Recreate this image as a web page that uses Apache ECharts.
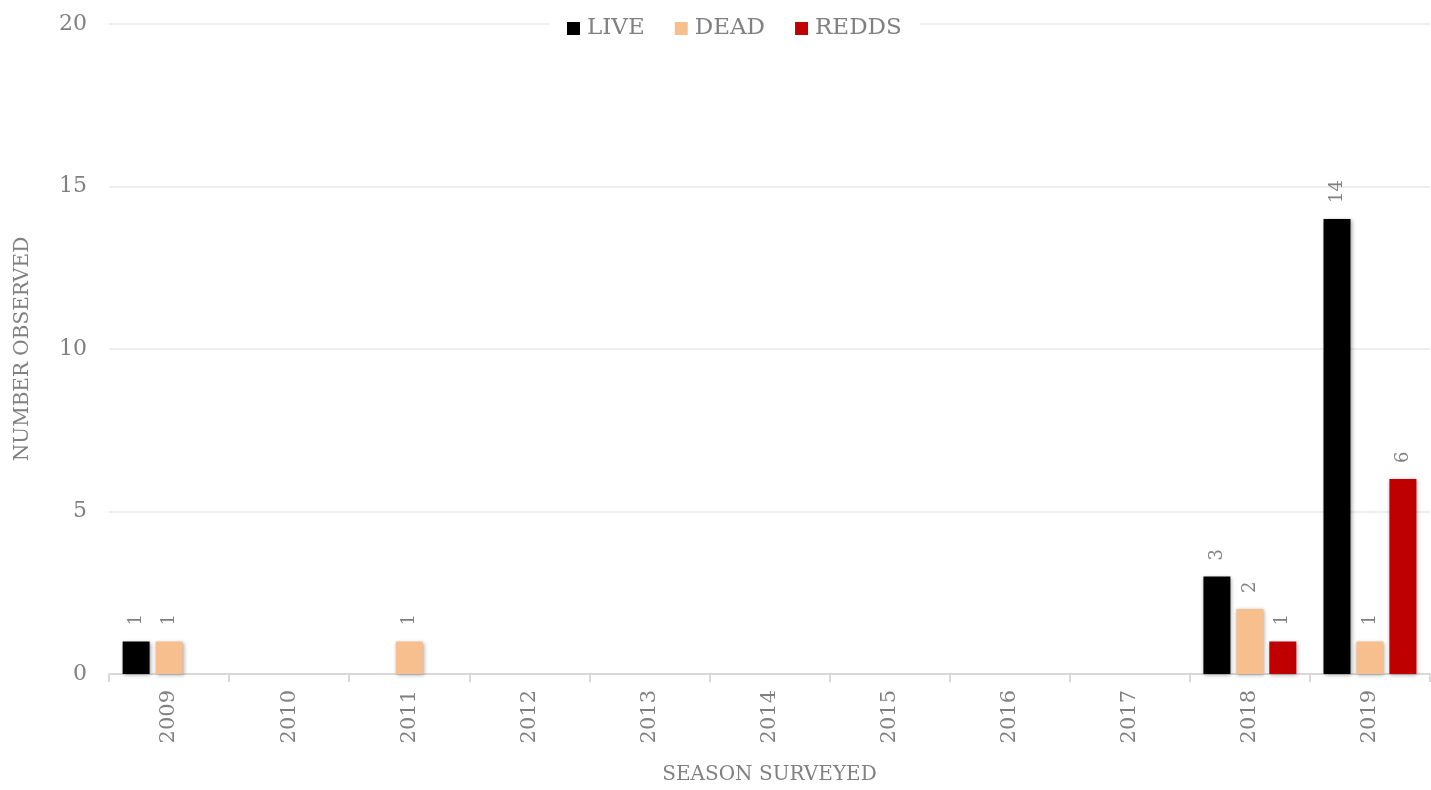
<!DOCTYPE html>
<html><head><meta charset="utf-8">
<script src="https://cdn.jsdelivr.net/npm/echarts@6/dist/echarts.min.js"></script>
<style>html,body{margin:0;padding:0;background:#fff}#c{width:1431px;height:790px}</style>
</head><body><div id="c"></div>
<script>
const categories = ['2009','2010','2011','2012','2013','2014','2015','2016','2017','2018','2019'];
const live  = [1, null, null, null, null, null, null, null, null, 3, 14];
const dead  = [1, null, 1, null, null, null, null, null, null, 2, 1];
const redds = [null, null, null, null, null, null, null, null, null, 1, 6];
const yTicks = {min: 0, max: 20, interval: 5};

const FONT = 'DejaVu Serif';
const GRAY = '#808080';
const shadow = {shadowBlur: 4, shadowColor: 'rgba(0,0,0,0.35)', shadowOffsetX: 1, shadowOffsetY: 1};
function mk(name, data, color) {
  return {
    name, type: 'bar', data, barWidth: 27, barGap: '22%',
    itemStyle: Object.assign({color}, shadow),
    label: {show: true, position: 'top', rotate: 90, align: 'left', verticalAlign: 'middle', distance: 16,
            color: GRAY, fontFamily: FONT, fontSize: 18},
    emphasis: {disabled: true}
  };
}
const chart = echarts.init(document.getElementById('c'));
chart.setOption({
  animation: false,
  backgroundColor: '#fff',
  textStyle: {fontFamily: FONT},
  legend: {
    top: 15, left: 549, itemWidth: 13, itemHeight: 13, itemGap: 30,
    backgroundColor: '#fff', padding: [2, 18],
    icon: 'rect',
    textStyle: {color: GRAY, fontFamily: FONT, fontSize: 23, padding: [0, 0, 0, 2]},
    data: ['LIVE', 'DEAD', 'REDDS']
  },
  grid: {left: 109, right: 1, top: 24, bottom: 109, containLabel: false},
  xAxis: {
    type: 'category', data: categories,
    name: 'SEASON SURVEYED', nameLocation: 'middle', nameGap: 91,
    nameTextStyle: {color: GRAY, fontFamily: FONT, fontSize: 20},
    axisLine: {lineStyle: {color: '#d9d9d9', width: 2}},
    axisTick: {show: true, length: 8, lineStyle: {color: '#d9d9d9', width: 2}},
    axisLabel: {rotate: 90, color: GRAY, fontFamily: FONT, fontSize: 21, margin: 16}
  },
  yAxis: {
    type: 'value', min: yTicks.min, max: yTicks.max, interval: yTicks.interval,
    name: 'NUMBER OBSERVED', nameLocation: 'middle', nameGap: 76, nameRotate: 90,
    nameTextStyle: {color: GRAY, fontFamily: FONT, fontSize: 20},
    axisLine: {show: false}, axisTick: {show: false},
    splitLine: {lineStyle: {color: '#eeeeee', width: 2}},
    axisLabel: {color: GRAY, fontFamily: FONT, fontSize: 22, margin: 22}
  },
  series: [mk('LIVE', live, '#000000'), mk('DEAD', dead, '#F8BF8E'), mk('REDDS', redds, '#C00000')]
});
</script></body></html>
